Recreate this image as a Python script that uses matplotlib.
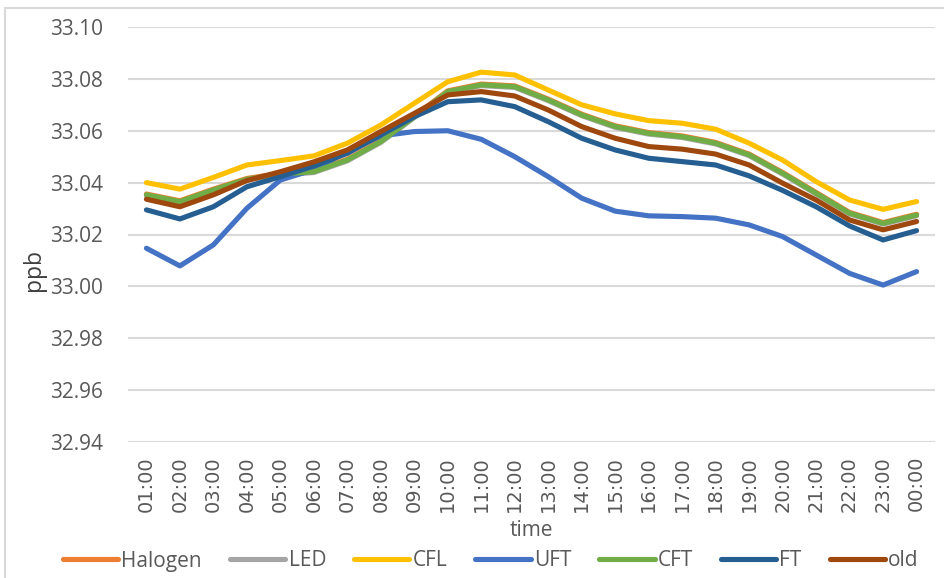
import matplotlib
matplotlib.use("Agg")
import matplotlib.pyplot as plt
from matplotlib.patches import Rectangle

hours = ["01:00", "02:00", "03:00", "04:00", "05:00", "06:00", "07:00", "08:00",
         "09:00", "10:00", "11:00", "12:00", "13:00", "14:00", "15:00", "16:00",
         "17:00", "18:00", "19:00", "20:00", "21:00", "22:00", "23:00", "00:00"]

halogen = [33.0356, 33.0330, 33.0375, 33.0416, 33.0436, 33.0445, 33.0490, 33.0561,
           33.0657, 33.0754, 33.0780, 33.0773, 33.0722, 33.0664, 33.0619, 33.0593,
           33.0580, 33.0555, 33.0510, 33.0439, 33.0362, 33.0285, 33.0246, 33.0278]
led = [33.0350, 33.0324, 33.0369, 33.0410, 33.0430, 33.0439, 33.0484, 33.0555,
       33.0651, 33.0748, 33.0774, 33.0767, 33.0716, 33.0658, 33.0613, 33.0587,
       33.0574, 33.0549, 33.0504, 33.0433, 33.0356, 33.0279, 33.0240, 33.0272]
cfl = [33.0400, 33.0375, 33.0420, 33.0468, 33.0485, 33.0503, 33.0552, 33.0622,
       33.0706, 33.0789, 33.0826, 33.0815, 33.0757, 33.0700, 33.0665, 33.0639,
       33.0629, 33.0606, 33.0552, 33.0487, 33.0404, 33.0333, 33.0297, 33.0327]
uft = [33.0147, 33.0079, 33.0160, 33.0301, 33.0410, 33.0450, 33.0520, 33.0580,
       33.0597, 33.0600, 33.0567, 33.0500, 33.0423, 33.0340, 33.0290, 33.0272,
       33.0269, 33.0263, 33.0237, 33.0192, 33.0121, 33.0050, 33.0005, 33.0057]
cft = [33.0353, 33.0327, 33.0372, 33.0413, 33.0433, 33.0442, 33.0487, 33.0558,
       33.0654, 33.0751, 33.0777, 33.0770, 33.0719, 33.0661, 33.0616, 33.0590,
       33.0577, 33.0552, 33.0507, 33.0436, 33.0359, 33.0282, 33.0243, 33.0275]
ft = [33.0295, 33.0260, 33.0307, 33.0384, 33.0423, 33.0464, 33.0513, 33.0584,
      33.0654, 33.0712, 33.0719, 33.0693, 33.0635, 33.0571, 33.0526, 33.0494,
      33.0481, 33.0468, 33.0426, 33.0370, 33.0307, 33.0233, 33.0179, 33.0215]
old = [33.0336, 33.0307, 33.0353, 33.0408, 33.0442, 33.0480, 33.0526, 33.0597,
       33.0667, 33.0738, 33.0751, 33.0734, 33.0680, 33.0616, 33.0571, 33.0539,
       33.0529, 33.0510, 33.0468, 33.0398, 33.0333, 33.0256, 33.0218, 33.0250]

series = [("Halogen", halogen, "#ED7D31"),
          ("LED", led, "#A5A5A5"),
          ("CFL", cfl, "#FFC000"),
          ("UFT", uft, "#4472C4"),
          ("CFT", cft, "#70AD47"),
          ("FT", ft, "#255E91"),
          ("old", old, "#9E480E")]

yticks = [32.94, 32.96, 32.98, 33.00, 33.02, 33.04, 33.06, 33.08, 33.10]

W, H = 944, 578
fig = plt.figure(figsize=(W / 100, H / 100), dpi=100)
ax = fig.add_axes([128 / W, 1 - 442 / H, (935 - 128) / W, (442 - 27) / H])

x = list(range(len(hours)))
for name, vals, col in series:
    ax.plot(x, vals, color=col, lw=3.7, label=name, solid_joinstyle="round",
            solid_capstyle="round")

ax.set_xlim(-0.55, len(hours) - 0.45)
ax.set_ylim(32.94, 33.10)
ax.set_yticks(yticks)
ax.set_yticklabels([f"{v:.2f}" for v in yticks], family="Open Sans",
                   fontsize=15, color="#595959")
ax.set_xticks(x)
ax.set_xticklabels(hours, rotation=90, family="DejaVu Sans", fontsize=14,
                   color="#595959")
ax.tick_params(axis="both", length=0)
ax.tick_params(axis="y", pad=18)
ax.tick_params(axis="x", pad=10)
ax.grid(axis="y", color="#D9D9D9", lw=1.5)
ax.set_axisbelow(True)
for s in ax.spines.values():
    s.set_visible(False)

ax.set_ylabel("ppb", family="Open Sans", fontsize=16.5, color="#404040")
ax.yaxis.set_label_coords((46 - 128) / 807, (442 - 270) / 415)
ax.set_xlabel("time", family="Open Sans", fontsize=15, color="#595959")
ax.xaxis.set_label_coords(0.5, (442 - 520) / 415)

fig.legend(loc="center", bbox_to_anchor=(0.52, 1 - 561 / H), ncol=7,
           frameon=False, prop={"family": "Open Sans", "size": 15},
           labelcolor="#595959", handlelength=2.65, handletextpad=0.15,
           columnspacing=1.35)

# chart border
fig.add_artist(Rectangle((5 / W, -0.1), 1.2, 1 - 8 / H + 0.1,
                         transform=fig.transFigure, fill=False,
                         edgecolor="#D9D9D9", lw=1.5))

fig.savefig("out.png", dpi=100, facecolor="white")
